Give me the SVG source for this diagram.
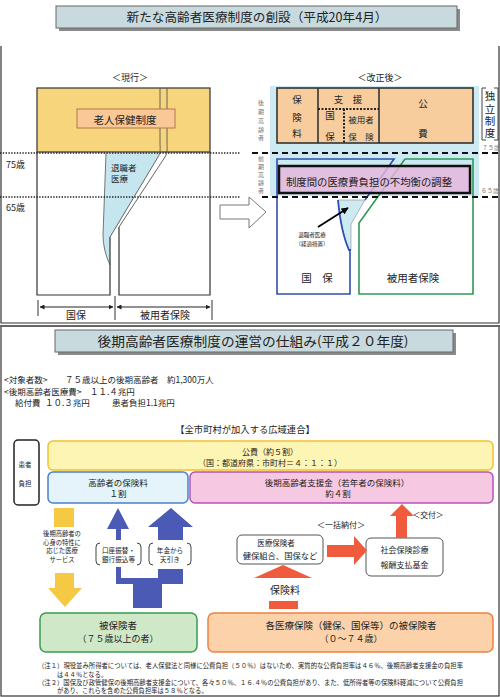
<svg xmlns="http://www.w3.org/2000/svg" width="500" height="697" viewBox="0 0 500 697">
<defs>
<style>
text{font-family:'Noto Sans CJK JP','Noto Sans CJK SC',sans-serif;fill:#222}
.c{text-anchor:middle}
.ln{fill:none;stroke:#333;stroke-width:1.2}
.dot{fill:none;stroke:#222;stroke-width:1.4;stroke-dasharray:1.4 1.4}
.dash{fill:none;stroke:#111;stroke-width:2;stroke-dasharray:6 4}
.sm{font-size:6px;fill:#777}
.blue{fill:#4b5ab5}
.org{fill:#ef5b3c}
.yel{fill:#f6c945}
.brk{fill:none;stroke:#444;stroke-width:1}
.shadow{fill:#8a8a8a}
.ttl{fill:#c9dade;stroke:#666;stroke-width:1}
</style>
<marker id="ah" viewBox="0 0 10 10" refX="9" refY="5" markerWidth="5" markerHeight="5" orient="auto-start-reverse"><path d="M0,0 L10,5 L0,10 z" fill="#222"/></marker>
<marker id="ahb" viewBox="0 0 10 10" refX="9" refY="5" markerWidth="4" markerHeight="4" orient="auto"><path d="M0,0 L10,5 L0,10 z" fill="#000"/></marker>
</defs>
<rect width="500" height="697" fill="#fff"/>

<g id="frames">
<path d="M1,46 V323 H499 V46" fill="none" stroke="#333" stroke-width="1.2"/>
<rect x="1" y="326" width="498" height="370" fill="none" stroke="#333" stroke-width="1.2"/>
<line x1="0" y1="326" x2="500" y2="326" stroke="#666" stroke-width="2"/>
</g>

<g id="title-top">
<rect class="shadow" x="59" y="9" width="401" height="22"/>
<rect class="ttl" x="56" y="6" width="401" height="22"/>
<text class="c" x="257" y="21.5" font-size="12.5" textLength="261" lengthAdjust="spacingAndGlyphs">新たな高齢者医療制度の創設（平成20年4月）</text>
</g>

<!-- current system -->
<g id="current">
<text class="c" x="130" y="81" font-size="9">＜現行＞</text>
<rect x="37" y="88" width="173" height="64" fill="#f7d57c" stroke="#333" stroke-width="1.2"/>
<path d="M106,153 H160 L158,157 L110,237 V265 Q103,250 103,235 Z" fill="#c5e6ef"/>
<path d="M106,153 L103,235 Q103,250 110,265" fill="none" stroke="#555" stroke-width="0.8"/>
<path class="ln" d="M37,152 V295 H110 V237"/>
<path class="ln" d="M119,227 V295 H210 V152"/>
<path d="M160,88 V142 C160,149 161,152 158,157 L110,237" fill="none" stroke="#555" stroke-width="0.9"/>
<path d="M167,88 V142 C167,149 168,152 165,157 L119,227" fill="none" stroke="#555" stroke-width="0.9"/>
<rect x="77" y="109" width="98" height="19" fill="#f9c896" stroke="#b07a4a" stroke-width="1"/>
<text class="c" x="125" y="123.5" font-size="10.5">老人保健制度</text>
<text x="111" y="171" font-size="8.5">退職者</text>
<text x="111" y="182" font-size="8.5">医療</text>
<path class="dot" d="M0,153 H240"/>
<path class="dot" d="M0,197 H240"/>
<text x="6" y="167.5" font-size="9">75歳</text>
<text x="6" y="210.5" font-size="9">65歳</text>
</g>

<g id="current-dims">
<line x1="38" y1="300" x2="38" y2="316" stroke="#333" stroke-width="1"/>
<line x1="115" y1="296" x2="115" y2="320" stroke="#333" stroke-width="1"/>
<line x1="212" y1="300" x2="212" y2="320" stroke="#333" stroke-width="1"/>
<line x1="40" y1="307" x2="113" y2="307" stroke="#222" stroke-width="1" marker-start="url(#ah)" marker-end="url(#ah)"/>
<line x1="117" y1="307" x2="210" y2="307" stroke="#222" stroke-width="1" marker-start="url(#ah)" marker-end="url(#ah)"/>
<text class="c" x="76" y="318.5" font-size="10">国保</text>
<text class="c" x="165" y="318.5" font-size="10">被用者保険</text>
</g>

<g id="transition-arrow">
<polygon points="220,205 249,205 249,197 266,212 249,228 249,219 220,219" fill="#fff" stroke="#777" stroke-width="1"/>
</g>

<!-- reformed system -->
<g id="reformed">
<text class="c" x="380" y="81" font-size="9">＜改正後＞</text>
<rect x="270" y="86" width="209" height="110" fill="#cde9f1"/>
<text class="sm" x="261" y="100" writing-mode="tb" letter-spacing="2.8">後期高齢者</text>
<text class="sm" x="261" y="156" writing-mode="tb" letter-spacing="2">前期高齢者</text>
</g>

<g id="reformed-finance">
<rect x="277" y="88" width="196" height="55" fill="#f8cd9e" stroke="#333" stroke-width="1.6"/>
<line x1="318" y1="88" x2="318" y2="143" stroke="#333" stroke-width="1.6"/>
<line x1="379" y1="88" x2="379" y2="143" stroke="#333" stroke-width="1.6"/>
<path d="M318,109 H379 M344,109 V143" fill="none" stroke="#222" stroke-width="2" stroke-dasharray="2 1.5"/>
<text class="c" x="297" y="102.5" font-size="9.5">保</text>
<text class="c" x="297" y="120.5" font-size="9.5">険</text>
<text class="c" x="297" y="137" font-size="9.5">料</text>
<text class="c" x="348" y="102.5" font-size="9.5">支　援</text>
<text class="c" x="330" y="119" font-size="9.5">国</text>
<text class="c" x="330" y="140" font-size="9.5">保</text>
<text class="c" x="361" y="123" font-size="8.5">被用者</text>
<text class="c" x="361" y="140" font-size="8.5">保　険</text>
<text class="c" x="423" y="106.5" font-size="9.5">公</text>
<text class="c" x="423" y="137" font-size="9.5">費</text>
</g>

<g id="independent-label">
<path class="brk" d="M486,88 H482 V140 H486"/>
<path class="brk" d="M494,88 H498 V140 H494"/>
<text x="490" y="91" font-size="10.5" writing-mode="tb" letter-spacing="1.8">独立制度</text>
<text class="sm" x="482" y="150">７５歳</text>
<text class="sm" x="481" y="193">６５歳</text>
</g>

<g id="reformed-insurers">
<path d="M350,250 V294 H277 V159 H394 L365,200" fill="none" stroke="#2f4fb0" stroke-width="1.6"/>
<path d="M405,159 H473 V294 H359 V223 L405,159" fill="none" stroke="#2e9a55" stroke-width="1.6"/>
<path d="M338,200 H365 L351,224 V250 H349 Q341,232 338,200 Z" fill="#cde9f1" stroke="#999" stroke-width="0.7"/>
<path d="M338,200 Q341,232 349,250 H351" fill="none" stroke="#2f4fb0" stroke-width="1.8"/>
<text class="c" x="317" y="281.5" font-size="10.5">国　保</text>
<text class="c" x="413" y="281.5" font-size="10.5">被用者保険</text>
<text class="c" x="312" y="237" font-size="5.5">退職者医療</text>
<text class="c" x="312" y="246" font-size="5.5">（経過措置）</text>
</g>

<g id="adjustment">
<rect x="279" y="166" width="191" height="27" fill="#e7b5dc" fill-opacity="0.82" stroke="#111" stroke-width="2.5"/>
<text class="c" x="369" y="186" font-size="10.4">制度間の医療費負担の不均衡の調整</text>
</g>

<g id="age-lines-right">
<path class="dash" d="M252,153 H499"/>
<path class="dash" d="M262,197 H499"/>
</g>

<!-- bottom panel -->
<g id="title-bottom">
<rect class="shadow" x="58" y="333" width="398" height="22"/>
<rect class="ttl" x="55" y="330" width="398" height="22"/>
<text class="c" x="253" y="345.5" font-size="13" textLength="311" lengthAdjust="spacingAndGlyphs">後期高齢者医療制度の運営の仕組み(平成２０年度)</text>
</g>

<g id="summary">
<text x="4" y="383" font-size="8.5">&lt;対象者数&gt;</text>
<text x="65" y="383" font-size="8.5">７５歳以上の後期高齢者</text>
<text x="167" y="383" font-size="8.5">約1,300万人</text>
<text x="4" y="394.5" font-size="8.5">&lt;後期高齢者医療費&gt;</text>
<text x="90" y="394.5" font-size="8.5">１１.４兆円</text>
<text x="15" y="406" font-size="8.5">給付費</text>
<text x="45" y="406" font-size="8.5">１０.３兆円</text>
<text x="112" y="406" font-size="8.5">患者負担1.1兆円</text>
</g>

<text class="c" x="245" y="433" font-size="9.3">【全市町村が加入する広域連合】</text>

<g id="patient-share">
<rect x="14" y="440" width="25" height="65" rx="4" fill="#fff" stroke="#222" stroke-width="1.5"/>
<text class="c" x="25" y="466.5" font-size="6.5">患者</text>
<text class="c" x="25" y="485.5" font-size="6.5">負担</text>
</g>

<g id="public-funds">
<rect x="48" y="441" width="445" height="29" rx="5" fill="#fdf5b3" stroke="#f2c12e" stroke-width="1.5"/>
<text class="c" x="270" y="455" font-size="8">公費（約５割）</text>
<text class="c" x="270" y="466" font-size="8">（国：都道府県：市町村＝４：１：１）</text>
</g>

<g id="elderly-premium">
<rect x="48" y="472" width="140" height="31" rx="5" fill="#e4f4fa" stroke="#4a7fd0" stroke-width="1.5"/>
<text class="c" x="118" y="486" font-size="8.5">高齢者の保険料</text>
<text class="c" x="118" y="497" font-size="8.5">１割</text>
</g>

<g id="support-fund">
<rect x="190" y="472" width="303" height="31" rx="5" fill="#f6c8e1" stroke="#b455b4" stroke-width="1.5"/>
<text class="c" x="337" y="486" font-size="8.5">後期高齢者支援金（若年者の保険料）</text>
<text class="c" x="338" y="497" font-size="8.5">約４割</text>
</g>

<g id="insurers">
<rect x="237" y="535" width="86" height="29" rx="5" fill="#fff" stroke="#555" stroke-width="1"/>
<text class="c" x="276" y="546" font-size="7.5">医療保険者</text>
<text class="c" x="280" y="559" font-size="8.3">健保組合、国保など</text>
</g>

<g id="payment-fund">
<rect x="366" y="538" width="77" height="38" rx="5" fill="#fff" stroke="#555" stroke-width="1"/>
<text class="c" x="404.5" y="552.5" font-size="8">社会保険診療</text>
<text class="c" x="404.5" y="568" font-size="8">報酬支払基金</text>
</g>

<g id="insured-elderly">
<rect x="40" y="613" width="157" height="39" rx="6" fill="#cfe8c8" stroke="#3a9a50" stroke-width="1.5"/>
<text class="c" x="118" y="628.5" font-size="9.5">被保険者</text>
<text class="c" x="118" y="641.5" font-size="9">（７５歳以上の者）</text>
</g>

<g id="insured-young">
<rect x="208" y="613" width="285" height="39" rx="6" fill="#fcd2aa" stroke="#f08040" stroke-width="1.5"/>
<text class="c" x="351" y="628.5" font-size="9.5">各医療保険（健保、国保等）の被保険者</text>
<text class="c" x="351" y="641.5" font-size="9">（０～７４歳）</text>
</g>

<g id="connectors">
<line x1="318" y1="227" x2="348" y2="208" stroke="#000" stroke-width="1.8" marker-end="url(#ahb)"/>
<rect class="yel" x="54" y="508" width="20" height="19"/>
<path class="yel" d="M55,573 H74 V588 H82 L65,607 L48,588 H55 Z"/>
<polygon class="blue" points="107,529 118,508 129,529 121,529 121,540 116,540 116,529"/>
<polygon class="blue" points="148,527 171,508 193,527 183,527 183,540 158,540 158,527"/>
<path class="blue" d="M116,567 H121 V578 H158 V569 H183 V584 H162 V608 H133 V584 H116 Z"/>
<polygon class="org" points="402,504 414,516 407,516 407,538 396,538 396,516 390,516"/>
<polygon class="org" points="327,545 354,545 354,536 367,550.5 354,565 354,557 327,557"/>
<polygon class="org" points="283,565 312,578 254,578"/>
<rect class="org" x="269" y="601" width="29" height="8"/>
</g>

<g id="connector-labels">
<text class="c" x="62" y="535.5" font-size="6.3">後期高齢者の</text>
<text class="c" x="62" y="544.5" font-size="6.3">心身の特性に</text>
<text class="c" x="62" y="553" font-size="6.3">応じた医療</text>
<text class="c" x="62" y="561.5" font-size="6.3">サービス</text>
<path class="brk" d="M100,543 Q96,543 96,547 V561 Q96,565 100,565"/>
<path class="brk" d="M137,543 Q141,543 141,547 V561 Q141,565 137,565"/>
<text class="c" x="118.5" y="552.5" font-size="6.6">口座振替・</text>
<text class="c" x="118.5" y="561.5" font-size="6.6">銀行振込等</text>
<path class="brk" d="M153,543 Q149,543 149,547 V561 Q149,565 153,565"/>
<path class="brk" d="M187,543 Q191,543 191,547 V561 Q191,565 187,565"/>
<text class="c" x="170" y="552.5" font-size="6.6">年金から</text>
<text class="c" x="170" y="561.5" font-size="6.6">天引き</text>
<text class="c" x="341" y="528" font-size="8">＜一括納付＞</text>
<text class="c" x="428" y="518" font-size="7.8">＜交付＞</text>
<text class="c" x="285" y="593.5" font-size="10">保険料</text>
</g>

<g id="notes" font-size="6.3">
<text x="38" y="668" fill="#333" textLength="425" lengthAdjust="spacingAndGlyphs">（注１）現役並み所得者については、老人保健法と同様に公費負担（５０％）はないため、実質的な公費負担率は４６％、後期高齢者支援金の負担率</text>
<text x="57" y="676.5" fill="#333">は４４％となる。</text>
<text x="38" y="684.5" fill="#333" textLength="425" lengthAdjust="spacingAndGlyphs">（注２）国保及び政管健保の後期高齢者支援金について、各々５０％、１６.４％の公費負担があり、また、低所得者等の保険料軽減について公費負担</text>
<text x="57" y="693" fill="#333">があり、これらを含めた公費負担率は５８％となる。</text>
</g>
</svg>
